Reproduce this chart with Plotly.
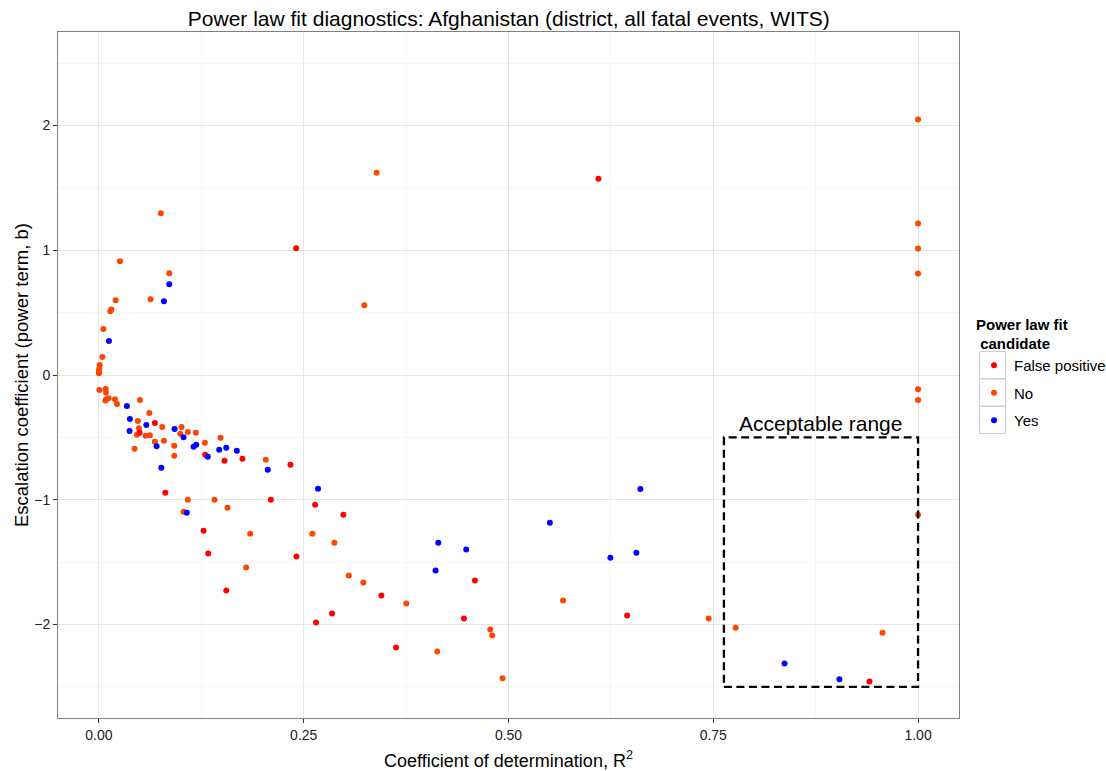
import plotly.graph_objects as go

# ---------------- data ----------------
fp_r2 = [0.2407, 0.6098, 0.0683, 0.0496, 0.1297, 0.1533, 0.1752, 0.2338, 0.081, 0.2098,
         0.1277, 0.1334, 0.2411, 0.1554, 0.2639, 0.2984, 0.3448, 0.2846, 0.2651, 0.3627,
         0.459, 0.4456, 0.6448, 0.9407]
fp_b = [1.016, 1.574, -0.384, -0.464, -0.64, -0.688, -0.672, -0.72, -0.944, -1.0,
        -1.248, -1.432, -1.456, -1.728, -1.04, -1.12, -1.768, -1.912, -1.984, -2.184,
        -1.648, -1.952, -1.928, -2.457]

no_r2 = [1.0, 1.0, 1.0, 1.0, 1.0, 1.0, 1.0, 0.339, 0.324, 0.0756,
         0.0256, 0.0858, 0.0204, 0.063, 0.0151, 0.0139, 0.0054, 0.0041, 0.0009, 0.0005,
         0.0, 0.0, 0.0005, 0.0082, 0.0086, 0.0093, 0.0078, 0.0118, 0.0195, 0.022,
         0.05, 0.0615, 0.0476, 0.0773, 0.0488, 0.0463, 0.057, 0.0622, 0.1009, 0.0992,
         0.1085, 0.1183, 0.0683, 0.0793, 0.0919, 0.0435, 0.0919, 0.1293, 0.1484, 0.2037,
         0.1085, 0.1411, 0.1033, 0.157, 0.1846, 0.1797, 0.2606, 0.2874, 0.3049, 0.3228,
         0.3752, 0.413, 0.4777, 0.4801, 0.4927, 0.5667, 0.7443, 0.7773, 0.9566]
no_b = [2.048, 1.214, 1.014, 0.814, -0.114, -0.2, -1.12, 1.621, 0.56, 1.296,
        0.912, 0.816, 0.60, 0.608, 0.525, 0.512, 0.368, 0.144, 0.08, 0.055,
        0.035, 0.015, -0.12, -0.112, -0.14, -0.195, -0.205, -0.187, -0.195, -0.232,
        -0.2, -0.304, -0.368, -0.416, -0.427, -0.48, -0.488, -0.483, -0.416, -0.472,
        -0.456, -0.464, -0.536, -0.528, -0.568, -0.592, -0.648, -0.544, -0.504, -0.68,
        -1.0, -1.0, -1.096, -1.064, -1.272, -1.544, -1.272, -1.344, -1.608, -1.664,
        -1.832, -2.216, -2.04, -2.088, -2.432, -1.808, -1.952, -2.026, -2.066]

yes_r2 = [0.0858, 0.0793, 0.0122, 0.0341, 0.0378, 0.0578, 0.0374, 0.0923, 0.1033, 0.0704,
          0.1155, 0.1188, 0.1329, 0.1468, 0.1554, 0.1683, 0.2061, 0.0761, 0.1073, 0.2675,
          0.4143, 0.4484, 0.411, 0.5505, 0.661, 0.6244, 0.6561, 0.837, 0.904]
yes_b = [0.728, 0.592, 0.272, -0.248, -0.352, -0.4, -0.448, -0.432, -0.499, -0.571,
         -0.576, -0.56, -0.656, -0.6, -0.584, -0.608, -0.76, -0.744, -1.104, -0.912,
         -1.344, -1.4, -1.568, -1.184, -0.914, -1.466, -1.426, -2.314, -2.44]

categories = ["False positive", "No", "Yes"]
colors = {"False positive": "#FF0000", "No": "#FF4500", "Yes": "#0000FF"}

x_ticks = [0.0, 0.25, 0.5, 0.75, 1.0]
x_tick_labels = ["0.00", "0.25", "0.50", "0.75", "1.00"]
y_ticks = [-2, -1, 0, 1, 2]

accept_r2 = [0.763, 1.0]
accept_b = [-2.5, -0.5]
accept_label = "Acceptable range"
accept_label_b = -0.385

# ---------------- layout constants ----------------
W, H = 1106, 771
L, R, T, B = 58.3, 146.7, 31.7, 52.7
FONT = "Liberation Sans, Arial, Helvetica, sans-serif"


def cx(p):
    return p / W


def cy(p):
    return 1 - p / H


fig = go.Figure()
series = {
    "No": (no_r2, no_b),
    "False positive": (fp_r2, fp_b),
    "Yes": (yes_r2, yes_b),
}
rank = {c: i for i, c in enumerate(categories)}
for name in ["No", "False positive", "Yes"]:
    xs, ys = series[name]
    fig.add_trace(go.Scatter(
        x=xs, y=ys, mode="markers", name=name,
        legendgroup=name, legendrank=rank[name] + 1,
        marker=dict(color=colors[name], size=6, line=dict(width=0)),
    ))

fig.add_shape(type="rect", xref="x", yref="y",
              x0=accept_r2[0], x1=accept_r2[1], y0=accept_b[0], y1=accept_b[1],
              line=dict(color="black", width=2.3, dash="8px,4.5px"),
              fillcolor="rgba(0,0,0,0)")
fig.add_annotation(x=(accept_r2[0] + accept_r2[1]) / 2, y=accept_label_b,
                   xref="x", yref="y", text=accept_label, showarrow=False,
                   font=dict(size=21, color="black", family=FONT))

axis_common = dict(
    showline=True, linecolor="#7F7F7F", linewidth=1, mirror=True,
    ticks="outside", ticklen=4, tickcolor="#333333", tickwidth=1,
    showgrid=True, gridcolor="#E5E5E5", gridwidth=1, zeroline=False,
    tickfont=dict(size=14, color="#222222", family=FONT),
)

fig.update_layout(
    width=W, height=H, autosize=False,
    margin=dict(l=L, r=R, t=T, b=B, pad=0),
    paper_bgcolor="white", plot_bgcolor="white",
    font=dict(family=FONT, color="black"),
    title=dict(text="Power law fit diagnostics: Afghanistan (district, all fatal events, WITS)",
               x=cx(508.8), xanchor="center", xref="container",
               y=cy(18.5), yanchor="middle", yref="container",
               font=dict(size=21, color="black", family=FONT)),
    xaxis=dict(range=[-0.05, 1.05], tickvals=x_ticks, ticktext=x_tick_labels,
               minor=dict(dtick=0.125, tick0=0, showgrid=True, gridcolor="#F7F7F7", ticks=""),
               title=dict(text="Coefficient of determination, R<sup>2</sup>",
                          font=dict(size=18, family=FONT)),
               automargin=False,
               **axis_common),
    yaxis=dict(range=[-2.75, 2.75], tickvals=y_ticks,
               minor=dict(dtick=0.5, tick0=0, showgrid=True, gridcolor="#F7F7F7", ticks=""),
               title=dict(text="Escalation coefficient (power term, b)",
                          font=dict(size=18.5, family=FONT), standoff=0),
               automargin=True,
               **axis_common),
    legend=dict(x=cx(974), y=cy(310), xref="container", yref="container",
                xanchor="left", yanchor="top",
                title=dict(text="<b>Power law fit<br> candidate</b>", font=dict(size=15, family=FONT)),
                font=dict(size=15, family=FONT), bgcolor="rgba(0,0,0,0)",
                tracegroupgap=5, itemsizing="trace"),
)

# legend key boxes (drawn behind the legend entries)
box_left, box_w, box_h = 980, 26, 27
box_centers = [365, 392.5, 420]
for c in box_centers:
    fig.add_shape(type="rect", xref="paper", yref="paper",
                  x0=(box_left - L) / (W - L - R), x1=(box_left + box_w - L) / (W - L - R),
                  y0=(H - B - (c + box_h / 2)) / (H - T - B), y1=(H - B - (c - box_h / 2)) / (H - T - B),
                  line=dict(color="#CCCCCC", width=1), fillcolor="white", layer="below")

fig.write_html("out.html")
